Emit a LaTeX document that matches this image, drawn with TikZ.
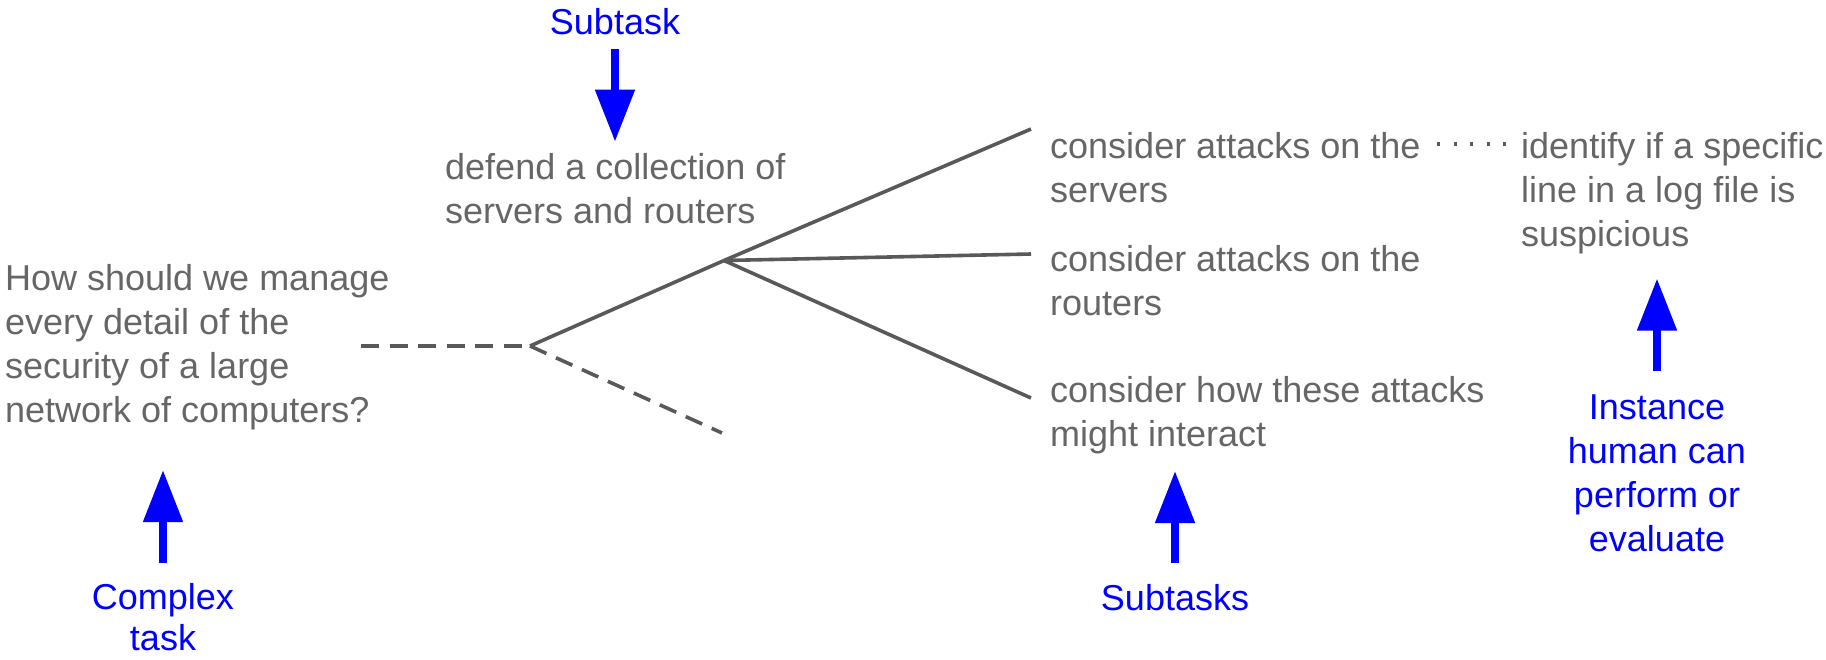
\documentclass[tikz,border=0pt]{standalone}
\usepackage{fontspec}
\setmainfont{Liberation Sans}
\usetikzlibrary{arrows.meta}
\definecolor{txtgray}{HTML}{666666}
\definecolor{lngray}{HTML}{595959}
\definecolor{lblue}{HTML}{0000FF}
\begin{document}
\begin{tikzpicture}[x=1pt,y=-1pt,
  gtext/.style={anchor=north west, inner sep=0pt, align=left, text=txtgray,
    font=\fontsize{36}{44}\selectfont},
  btext/.style={anchor=north, inner sep=0pt, align=center, text=lblue,
    font=\fontsize{36}{44}\selectfont},
  barrow/.style={draw=lblue, line width=8pt, -{Triangle[length=52pt,width=38pt]}},
  tree/.style={draw=lngray, line width=3.6pt},
  treedash/.style={tree, dash pattern=on 18pt off 10.5pt},
  treedot/.style={tree, dash pattern=on 3.3pt off 13.2pt}]
\useasboundingbox (0,0) rectangle (1826,659);

% gray texts
\node[gtext] (complex) at (5,264) {How should we manage\\every detail of the\\security of a large\\network of computers?};
\node[gtext] (defend) at (445,153) {defend a collection of\\servers and routers};
\node[gtext] (servers) at (1050,132.5) {consider attacks on the\\servers};
\node[gtext] (routers) at (1050,245) {consider attacks on the\\routers};
\node[gtext] (interact) at (1050,376.5) {consider how these attacks\\might interact};
\node[gtext] (identify) at (1521,132.5) {identify if a specific\\line in a log file is\\suspicious};

% blue labels
\node[btext] (lsub) at (615,8) {Subtask};
\node[btext, font=\fontsize{36}{41}\selectfont] (lcomplex) at (163,583) {Complex\\task};
\node[btext] (lsubs) at (1175,584) {Subtasks};
\node[btext] (linst) at (1657,395) {Instance\\human can\\perform or\\evaluate};

% arrow coordinates
\coordinate (a1s) at (615,49);   \coordinate (a1e) at (615,141.7);
\coordinate (a2s) at (163,563);  \coordinate (a2e) at (163,470);
\coordinate (a3s) at (1175,563); \coordinate (a3e) at (1175,471);
\coordinate (a4s) at (1657,371); \coordinate (a4e) at (1657,278.5);
\draw[barrow] (a1s) -- (a1e);
\draw[barrow] (a2s) -- (a2e);
\draw[barrow] (a3s) -- (a3e);
\draw[barrow] (a4s) -- (a4e);

% tree coordinates
\coordinate (t0) at (361,346);
\coordinate (j1) at (530,346);
\coordinate (tlow) at (722,433);
\coordinate (j2) at (724,260.5);
\coordinate (e1) at (1031,129);
\coordinate (e2) at (1031,254);
\coordinate (e3) at (1031,398);
\coordinate (d1) at (1437,144);
\coordinate (d2) at (1506,144);

\draw[treedash] (t0) -- (j1);
\draw[treedash] (j1) -- (tlow);
\draw[tree] (j1) -- (j2);
\draw[tree] (j2) -- (e1);
\draw[tree] (j2) -- (e2);
\draw[tree] (j2) -- (e3);
\draw[treedot] (d1) -- (d2);
\end{tikzpicture}
\end{document}
